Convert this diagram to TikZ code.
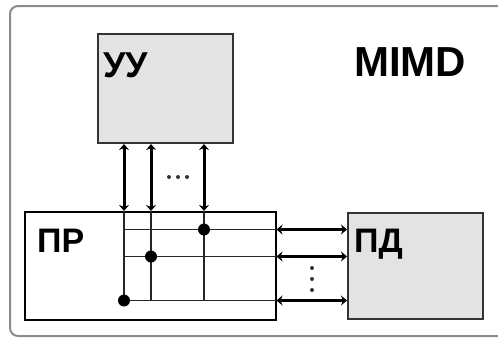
\documentclass[tikz,border=0pt]{standalone}
\usepackage{fontspec}
\setmainfont{Liberation Sans}
\usetikzlibrary{arrows.meta}
\begin{document}
\begin{tikzpicture}[x=1pt,y=-1pt,
  box/.style={draw=black!80, line width=2pt, fill=black!11, inner sep=0pt, anchor=north west},
  lbl/.style={font=\bfseries\fontsize{34}{34}\selectfont, inner sep=0pt, anchor=base west},
  dar/.style={line width=3pt, {Stealth[length=6pt,width=10pt]}-{Stealth[length=6pt,width=10pt]}},
  gridline/.style={line width=1.3pt, draw=black!85},
  dot/.style={circle, fill=black, inner sep=0pt, minimum size=12pt},
  sdot/.style={circle, fill=black!80, inner sep=0pt, minimum size=4pt}]
\useasboundingbox (0,0) rectangle (498,340);
\clip (0,0) rectangle (498,340);
\draw[black!45, line width=2pt, rounded corners=8pt] (10,6) rectangle (530,336);
\node[box, draw=black, line width=1.5pt, fill=white, minimum width=251pt, minimum height=108pt] (pr) at (24,211) {};
\node[box, minimum width=135pt, minimum height=109pt] (uu) at (97,33) {};
\node[box, minimum width=135pt, minimum height=106pt] (pd) at (347,212) {};
\node[lbl, font=\bfseries\fontsize{36}{36}\selectfont] (tuu) at (103,77) {УУ};
\node[lbl] (tpr) at (37,252) {ПР};
\node[lbl] (tpd) at (354,252) {ПД};
\node[lbl, font=\bfseries\fontsize{42}{42}\selectfont] (tm) at (354,76) {MIMD};
\coordinate (c1) at (124,0);
\coordinate (c2) at (151,0);
\coordinate (c3) at (204,0);
\coordinate (r1) at (0,229.5);
\coordinate (r2) at (0,256.5);
\coordinate (r3) at (0,300.5);
% grid inside PR
\draw[gridline] (pr.north -| c1) -- (r3 -| c1);
\draw[gridline] (pr.north -| c2) -- (r3 -| c2);
\draw[gridline] (pr.north -| c3) -- (r3 -| c3);
\draw[gridline] (r1 -| c1) -- (r1 -| pr.east);
\draw[gridline] (r2 -| c1) -- (r2 -| pr.east);
\draw[gridline] (r3 -| c1) -- (r3 -| pr.east);
% vertical arrows
\draw[dar] (uu.south -| c1) -- (pr.north -| c1);
\draw[dar] (uu.south -| c2) -- (pr.north -| c2);
\draw[dar] (uu.south -| c3) -- (pr.north -| c3);
% horizontal arrows
\draw[dar] (r1 -| pr.east) -- (r1 -| pd.west);
\draw[dar] (r2 -| pr.east) -- (r2 -| pd.west);
\draw[dar] (r3 -| pr.east) -- (r3 -| pd.west);
% junction dots
\node[dot] (d1) at (r1 -| c3) {};
\node[dot] (d2) at (r2 -| c2) {};
\node[dot] (d3) at (r3 -| c1) {};
% ellipses
\node[sdot] (e1) at (169,177) {};
\node[sdot] (e2) at (178,177) {};
\node[sdot] (e3) at (187,177) {};
\node[sdot] (v1) at (312,268) {};
\node[sdot] (v2) at (312,279) {};
\node[sdot] (v3) at (312,290) {};
\end{tikzpicture}
\end{document}
